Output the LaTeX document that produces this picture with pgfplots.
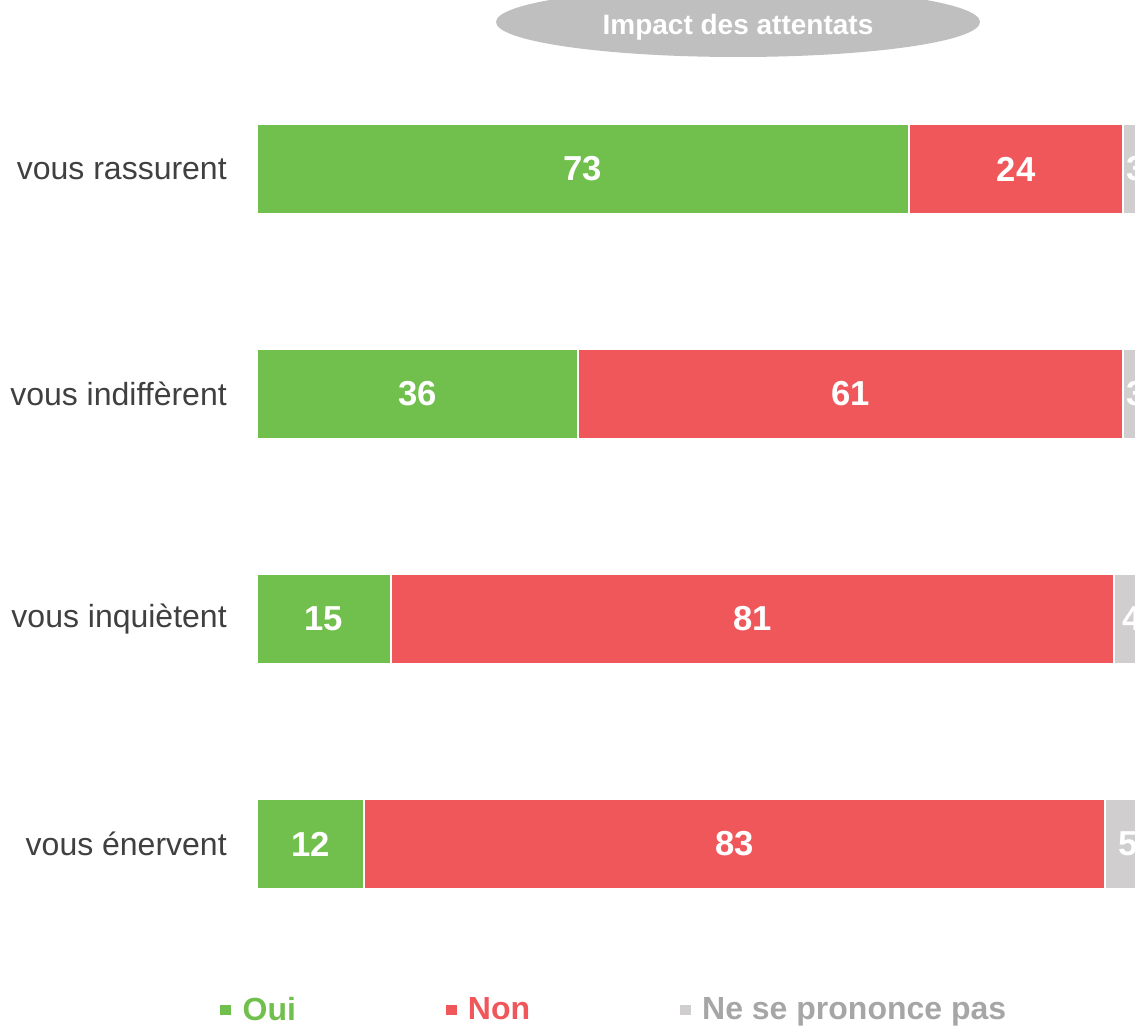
\documentclass[border=0pt]{standalone}
\usepackage{pgfplots}
\pgfplotsset{compat=1.18}
\usepackage{pgfplotstable}
\usepackage{fontspec}
\setmainfont{Liberation Sans}
\definecolor{oui}{HTML}{71BF4C}
\definecolor{non}{HTML}{F0575B}
\definecolor{nsp}{HTML}{D0CECE}
\definecolor{nsptext}{HTML}{A6A6A6}
\definecolor{cat}{HTML}{404040}
\definecolor{titlebg}{HTML}{BFBFBF}

\pgfplotstableread{
x y label
36.5 3 73
85 3 24
98.5 3 3
18 2 36
66.5 2 61
98.5 2 3
7.5 1 15
55.5 1 81
98 1 4
6 0 12
53.5 0 83
97.5 0 5
}\labels

\begin{document}
\begin{tikzpicture}
\path[use as bounding box] (0,0) rectangle (851.25pt,769.5pt);
\fill[titlebg] (553.5pt,753pt) ellipse [x radius=181.5pt, y radius=26.25pt];
\node[text=white, font=\fontsize{21}{25}\selectfont\bfseries] at (553.5pt,749.25pt) {Impact des attentats};
\begin{axis}[
  at={(192.75pt,52.125pt)}, anchor=south west,
  x=6.6975pt, y=168.75pt,
  xmin=0, xmax=100, ymin=-0.5, ymax=3.5,
  xbar stacked, bar width=67.5pt,
  clip=false,
  axis line style={draw=none},
  tick style={draw=none},
  xtick=\empty,
  ytick={0,1,2,3},
  yticklabels={vous énervent, vous inquiètent, vous indiffèrent, vous rassurent},
  yticklabel style={font=\fontsize{24}{28}\selectfont, text=cat, anchor=east, inner sep=0pt, xshift=-22.5pt},
  legend columns=3,
  legend image code/.code={\fill[#1,draw=none] (0pt,-4.1pt) rectangle (8.25pt,4.1pt);},
  legend style={at={(-0.0414,-0.0594)}, anchor=west, draw=none, fill=none, inner sep=0pt,
    font=\fontsize{24}{28}\selectfont\bfseries,
    /tikz/every odd column/.append style={column sep=6.5pt},
    /tikz/every even column/.append style={column sep=110.25pt}},
]
\addplot[fill=oui, draw=white, line width=1.5pt] coordinates {(73,3) (36,2) (15,1) (12,0)};
\addlegendentry{\textcolor{oui}{Oui}}
\addplot[fill=non, draw=white, line width=1.5pt] coordinates {(24,3) (61,2) (81,1) (83,0)};
\addlegendentry{\textcolor{non}{Non}}
\addplot[fill=nsp, draw=white, line width=1.5pt] coordinates {(3,3) (3,2) (4,1) (5,0)};
\addlegendentry{\textcolor{nsptext}{Ne se prononce pas}}
\end{axis}
\begin{axis}[
  at={(192.75pt,52.125pt)}, anchor=south west,
  x=6.6975pt, y=168.75pt,
  xmin=0, xmax=100, ymin=-0.5, ymax=3.5,
  hide axis, clip=false,
]
\addplot[only marks, mark=none, nodes near coords, point meta=explicit symbolic,
  every node near coord/.append style={anchor=center, text=white, font=\fontsize{26}{30}\selectfont\bfseries}]
  table[x=x, y=y, meta=label] {\labels};
\end{axis}
\end{tikzpicture}
\end{document}
